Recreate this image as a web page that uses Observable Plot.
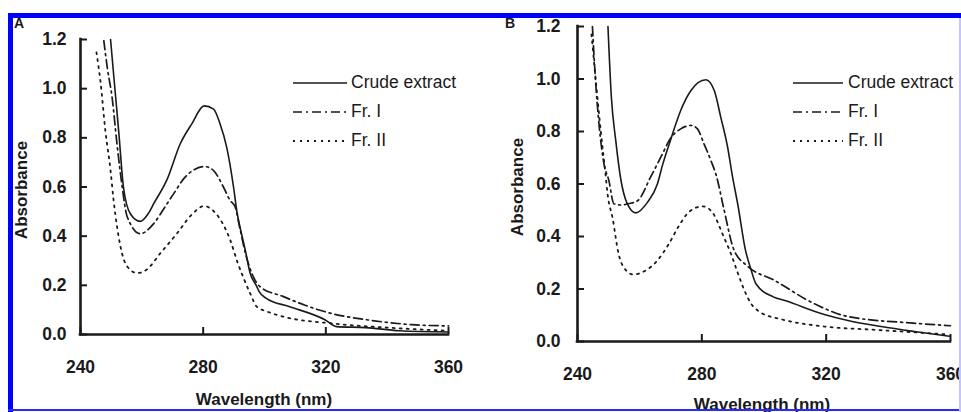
<!DOCTYPE html>
<html>
<head>
<meta charset="utf-8">
<script src="https://cdn.jsdelivr.net/npm/d3@7"></script>
<script src="https://cdn.jsdelivr.net/npm/@observablehq/plot@0.6"></script>
<style>
  html, body { margin: 0; padding: 0; background: #fff; }
  #wrap { position: relative; width: 961px; height: 412px; overflow: hidden; background: #fff; }
  .panel { position: absolute; top: 0; }
  #overlay { position: absolute; left: 0; top: 0; }
  .bar { position: absolute; z-index: 10; }
</style>
</head>
<body>
<div id="wrap">
  <div id="pa" class="panel" style="left:0px"></div>
  <div id="pb" class="panel" style="left:480px"></div>
  <svg id="overlay" width="961" height="412"></svg>
  <div class="bar" style="left:8px;top:13px;width:953px;height:5px;background:#0000ff"></div>
  <div class="bar" style="left:8px;top:13px;width:5px;height:399px;background:#0000ff"></div>
  <div class="bar" style="left:8px;top:409px;width:953px;height:2px;background:#2a2aff"></div>
  <div class="bar" style="left:959px;top:18px;width:2px;height:394px;background:#c4c4ff"></div>
</div>
<script>
// ---- tick labels / categories ----
const xTicks = [240, 280, 320, 360];
const yTicks = [0, 0.2, 0.4, 0.6, 0.8, 1.0, 1.2];
const seriesNames = ["Crude extract", "Fr. I", "Fr. II"];
const panelLabels = ["A", "B"];
const xTitle = "Wavelength (nm)";
const yTitle = "Absorbance";

// ---- Panel A ----
const aCrudeWl  = [249.8, 251, 252.5, 254, 256.3, 259.5, 262, 264, 268.2, 272.5, 276.3, 280.3, 283.4, 285.5, 287.7, 289.9, 291, 292.5, 293.7, 295.3, 297.5, 298.2, 300.7, 308, 319.7, 323.5, 333, 344, 360];
const aCrudeAbs = [1.2, 1.03, 0.82, 0.6, 0.49, 0.46, 0.49, 0.535, 0.63, 0.775, 0.857, 0.93, 0.917, 0.857, 0.76, 0.6, 0.5, 0.41, 0.345, 0.25, 0.195, 0.175, 0.146, 0.114, 0.06, 0.032, 0.028, 0.015, 0.01];

const aFr1Wl  = [247.6, 248.8, 250.3, 251.9, 253.6, 255.2, 259.5, 263.8, 267.6, 270.5, 274.1, 280.5, 283.4, 286.6, 288.8, 290.4, 292, 294, 296, 298.5, 306, 313, 322, 333.3, 348, 360];
const aFr1Abs = [1.195, 1.08, 0.965, 0.775, 0.6, 0.48, 0.41, 0.45, 0.52, 0.575, 0.64, 0.683, 0.667, 0.6, 0.545, 0.52, 0.43, 0.32, 0.245, 0.195, 0.155, 0.12, 0.085, 0.06, 0.04, 0.035];

const aFr2Wl  = [245.2, 246.5, 248.1, 249.8, 250.8, 251.9, 253, 255.2, 258.5, 261.7, 266, 271.4, 276.3, 280.3, 284.3, 288.8, 291.3, 293, 295.3, 297.5, 300.7, 306, 322, 340, 360];
const aFr2Abs = [1.148, 1.03, 0.83, 0.667, 0.545, 0.44, 0.36, 0.277, 0.25, 0.265, 0.33, 0.41, 0.488, 0.522, 0.49, 0.385, 0.29, 0.235, 0.168, 0.113, 0.094, 0.073, 0.045, 0.028, 0.015];

// ---- Panel B ----
const bCrudeWl  = [249.8, 250.9, 252.3, 253.9, 256, 258.7, 262.5, 265.7, 267.3, 270, 273.2, 276.5, 281.3, 284, 286.1, 288.3, 289.9, 291.6, 294, 295.8, 297.4, 303, 307, 319.4, 327, 337.7, 348.4, 359.7];
const bCrudeAbs = [1.2, 0.93, 0.766, 0.62, 0.525, 0.49, 0.53, 0.6, 0.67, 0.77, 0.88, 0.956, 0.997, 0.956, 0.854, 0.74, 0.626, 0.52, 0.35, 0.275, 0.22, 0.17, 0.155, 0.103, 0.08, 0.057, 0.038, 0.02];

const bFr1Wl  = [244.8, 245.8, 246.9, 248.5, 250.1, 251.7, 254, 256.5, 259.4, 263.5, 266.8, 270, 273.2, 276.5, 278.6, 280.7, 282.9, 284.8, 287, 290.3, 294.8, 303, 316, 327, 348, 360];
const bFr1Abs = [1.2, 0.994, 0.83, 0.678, 0.613, 0.525, 0.52, 0.525, 0.537, 0.626, 0.702, 0.775, 0.81, 0.823, 0.81, 0.753, 0.69, 0.626, 0.51, 0.35, 0.286, 0.235, 0.145, 0.095, 0.07, 0.06];

const bFr2Wl  = [244.5, 246, 247.5, 249, 249.7, 251.3, 253.2, 255, 258, 261, 265.8, 269.3, 272.6, 276, 280.3, 283.5, 287, 289.5, 291.6, 293.5, 295.8, 299, 305.5, 319.4, 335, 359.3];
const bFr2Abs = [1.17, 0.98, 0.8, 0.64, 0.56, 0.47, 0.335, 0.28, 0.255, 0.265, 0.31, 0.37, 0.44, 0.495, 0.515, 0.49, 0.4, 0.33, 0.26, 0.2, 0.145, 0.11, 0.085, 0.057, 0.045, 0.027];

// ---- styles per series ----
const lineStyles = [
  {dash: null, w: 1.6},
  {dash: "9,4,2,4", w: 1.7},
  {dash: "2,5", w: 1.8}
];
const ink = "#1a1a1a";

function rows(wl, abs) { return wl.map((w, i) => ({wl: w, abs: abs[i]})); }

function panel({series, width, mL, mR, mT, mB, padY}) {
  return Plot.plot({
    width, height: 412,
    marginLeft: mL, marginRight: mR, marginTop: mT, marginBottom: mB,
    x: {domain: [240, 360]},
    y: {domain: [0, 1.2]},
    style: {fontFamily: '"Liberation Sans", Arial, sans-serif', fontSize: "17.5px", fontWeight: "bold", color: ink, background: "transparent", overflow: "visible"},
    marks: [
      Plot.axisY({ticks: yTicks, tickSize: 0, tickPadding: padY, tickFormat: d => d.toFixed(1), label: null}),
      Plot.axisY({ticks: yTicks, tickSize: 7, dx: 7, fill: "none", strokeWidth: 2, label: null}),
      Plot.axisX({ticks: xTicks, tickSize: 0, tickPadding: 26, tickFormat: d => String(d), label: null}),
      Plot.axisX({ticks: xTicks, tickSize: 7, dy: -7, fill: "none", strokeWidth: 2, label: null}),
      Plot.ruleX([240], {strokeWidth: 2.6, stroke: ink, strokeLinecap: "square"}),
      Plot.ruleY([0], {strokeWidth: 2.6, stroke: ink, strokeLinecap: "square"}),
      ...series.map((s, i) => Plot.line(rows(s.wl, s.abs), {
        x: "wl", y: "abs", curve: "monotone-x",
        stroke: ink, strokeWidth: lineStyles[i].w,
        strokeDasharray: lineStyles[i].dash
      }))
    ]
  });
}

document.getElementById("pa").appendChild(panel({
  series: [{wl: aCrudeWl, abs: aCrudeAbs}, {wl: aFr1Wl, abs: aFr1Abs}, {wl: aFr2Wl, abs: aFr2Abs}],
  width: 480, mL: 80, mR: 32, mT: 39, mB: 78, padY: 14
}));
document.getElementById("pb").appendChild(panel({
  series: [{wl: bCrudeWl, abs: bCrudeAbs}, {wl: bFr1Wl, abs: bFr1Abs}, {wl: bFr2Wl, abs: bFr2Abs}],
  width: 481, mL: 97, mR: 11, mT: 26, mB: 71, padY: 17
}));

// ---- overlay texts & legends ----
const ov = d3.select("#overlay");
const font = '"Liberation Sans", Arial, sans-serif';
const layout = [
  {label: {x: 14, y: 28}, ytitle: {x: 21, y: 190}, xtitle: {x: 264, y: 405}, legend: {x1: 293, x2: 347, tx: 351}},
  {label: {x: 505, y: 28}, ytitle: {x: 517, y: 187}, xtitle: {x: 762, y: 410}, legend: {x1: 793, x2: 843, tx: 848}}
];
const legendRows = [{ly: 83, ty: 88}, {ly: 112, ty: 117}, {ly: 141, ty: 146}];
layout.forEach((L, p) => {
  ov.append("text").attr("x", L.label.x).attr("y", L.label.y)
    .attr("font-family", font).attr("font-weight", "bold").attr("font-size", 14).attr("fill", ink)
    .text(panelLabels[p]);
  ov.append("text").attr("transform", `translate(${L.ytitle.x},${L.ytitle.y}) rotate(-90)`)
    .attr("text-anchor", "middle").attr("dominant-baseline", "central")
    .attr("font-family", font).attr("font-weight", "bold").attr("font-size", 17).attr("fill", ink)
    .text(yTitle);
  ov.append("text").attr("x", L.xtitle.x).attr("y", L.xtitle.y).attr("text-anchor", "middle")
    .attr("font-family", font).attr("font-weight", "bold").attr("font-size", 17).attr("fill", ink)
    .text(xTitle);
  seriesNames.forEach((name, i) => {
    const r = legendRows[i];
    ov.append("line").attr("x1", L.legend.x1).attr("x2", L.legend.x2).attr("y1", r.ly).attr("y2", r.ly)
      .attr("stroke", ink).attr("stroke-width", lineStyles[i].w)
      .attr("stroke-dasharray", lineStyles[i].dash);
    ov.append("text").attr("x", L.legend.tx).attr("y", r.ty)
      .attr("font-family", font).attr("font-size", 17.5).attr("fill", ink)
      .text(name);
  });
});
</script>
</body>
</html>
